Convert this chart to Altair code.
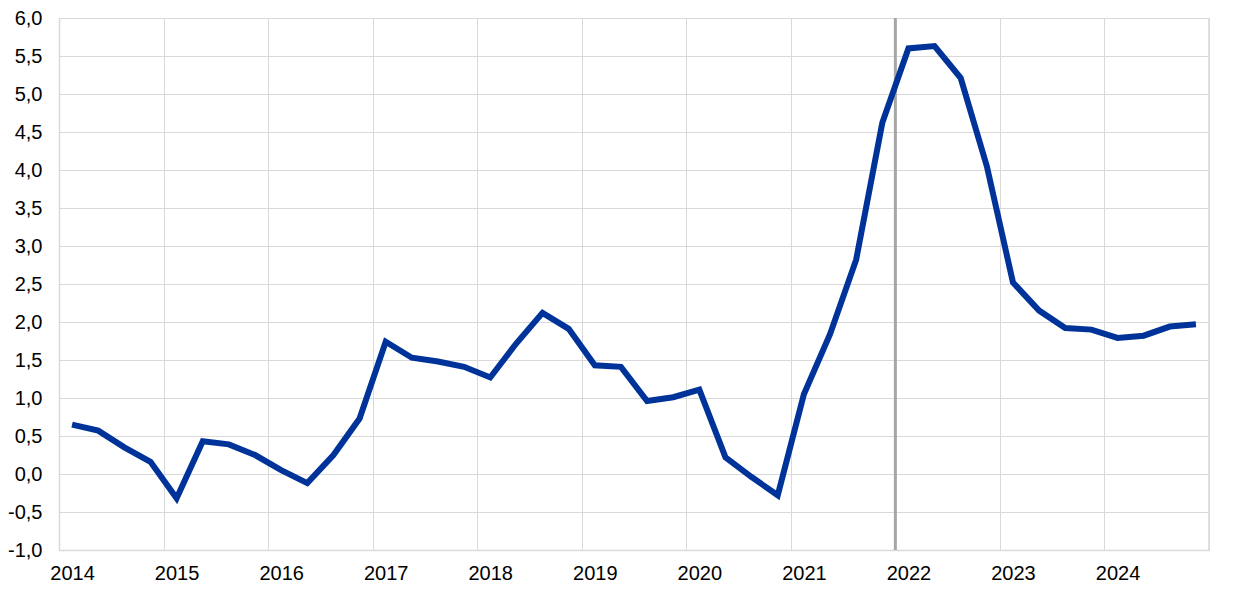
import altair as alt
import pandas as pd

# Quarterly values, 2014 Q1 .. 2024 Q4
values = [0.65, 0.57, 0.35, 0.16,
          -0.32, 0.43, 0.39, 0.25,
          0.05, -0.12, 0.25, 0.73,
          1.74, 1.53, 1.48, 1.41,
          1.27, 1.72, 2.12, 1.91,
          1.43, 1.41, 0.96, 1.01,
          1.11, 0.22, -0.04, -0.28,
          1.05, 1.84, 2.82, 4.62,
          5.60, 5.63, 5.21, 4.05,
          2.52, 2.15, 1.92, 1.90,
          1.79, 1.82, 1.94, 1.97]
start_year = 2014
years = list(range(2014, 2025))
marker_quarter = 32  # boundary before 2022 Q1

W, H = 1150, 532
quarter_px = W / 44

df = pd.DataFrame({"q": [i + 0.5 for i in range(len(values))], "v": values})

FONT = "Liberation Sans"

x_scale = alt.Scale(domain=[0, 44], nice=False, zero=False)
y_scale = alt.Scale(domain=[-1, 6], nice=False)

line = alt.Chart(df).mark_line(color="#003399", strokeWidth=6, strokeJoin="miter").encode(
    x=alt.X("q:Q", scale=x_scale,
            axis=alt.Axis(values=[4 * i for i in range(12)], title=None,
                          labelExpr=f"datum.value < 44 ? '' + ({start_year} + datum.value / 4) : ''",
                          labelOffset=quarter_px / 2, labelFlush=False, labelOverlap=False,
                          ticks=False, labelPadding=13,
                          gridColor="#d9d9d9", gridWidth=1,
                          domainColor="#d9d9d9", domainWidth=1.5,
                          labelFont=FONT, labelFontSize=20, labelColor="#000000")),
    y=alt.Y("v:Q", scale=y_scale,
            axis=alt.Axis(values=[-1 + 0.5 * i for i in range(15)], title=None,
                          labelExpr="replace(replace(format(datum.value, '.1f'), '.', ','), '\u2212', '-')",
                          ticks=False, labelPadding=17, labelFlush=False, labelOverlap=False,
                          gridColor="#d9d9d9", gridWidth=1,
                          domainColor="#d9d9d9", domainWidth=1.5,
                          labelFont=FONT, labelFontSize=20, labelColor="#000000")),
)

marker = alt.Chart(pd.DataFrame({"q": [marker_quarter]})).mark_rule(
    color="#a6a6a6", strokeWidth=3).encode(x=alt.X("q:Q", scale=x_scale))

right_edge = alt.Chart(pd.DataFrame({"q": [44]})).mark_rule(
    color="#d9d9d9", strokeWidth=1.5).encode(x=alt.X("q:Q", scale=x_scale))

chart = alt.layer(right_edge, marker, line).properties(
    width=W, height=H,
    autosize=alt.AutoSizeParams(type="none"),
    padding={"left": 51, "top": 10, "right": 20, "bottom": 40},
).configure_view(stroke=None)

chart.save("out.html", embed_options={"renderer": "svg", "actions": False})
